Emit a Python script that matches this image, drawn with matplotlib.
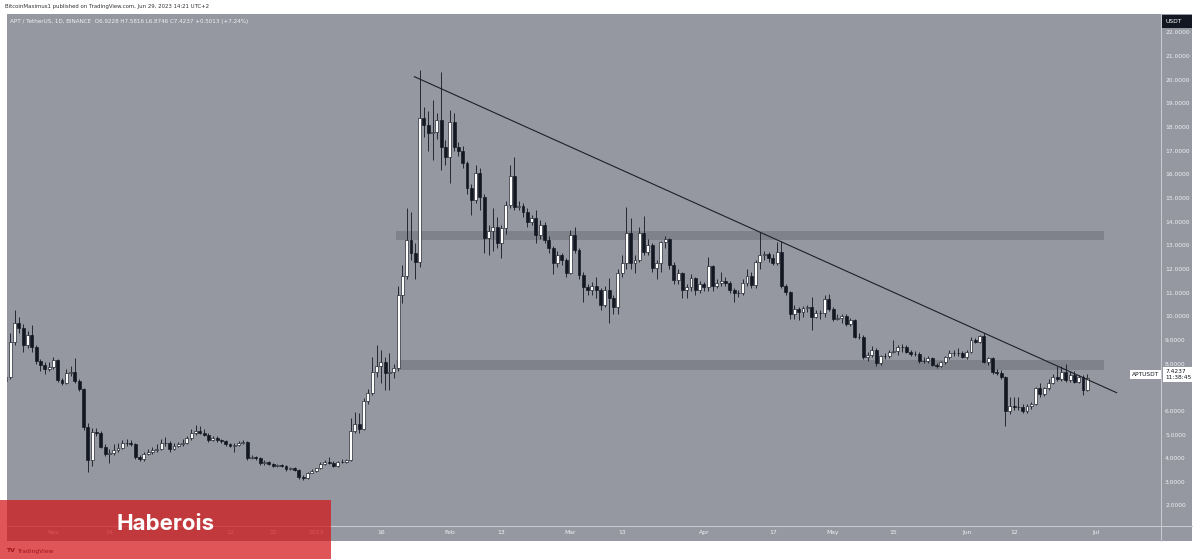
import numpy as np
import pandas as pd
import matplotlib
matplotlib.use('Agg')
import matplotlib.pyplot as plt
import matplotlib.dates as mdates
from matplotlib.patches import Rectangle
from matplotlib.lines import Line2D
from matplotlib.transforms import blended_transform_factory

# --- dados (APT/USDT diário) ---
start_date = '2022-10-21'
first_open = 7.30

closes = [
    7.44, 8.95, 9.75, 9.51, 8.81, 9.23, 8.71, 8.14, 7.96, 7.78,
    7.89, 8.17, 7.33, 7.21, 7.64, 7.68, 7.30, 6.95, 5.35, 3.95,
    5.14, 5.10, 4.51, 4.20, 4.23, 4.37, 4.45, 4.65, 4.68, 4.62,
    4.09, 4.00, 4.20, 4.30, 4.35, 4.40, 4.65, 4.68, 4.40, 4.55,
    4.60, 4.65, 4.86, 5.10, 5.19, 5.10, 5.00, 4.79, 4.86, 4.79,
    4.76, 4.62, 4.54, 4.58, 4.68, 4.72, 4.02, 4.06, 4.02, 3.80,
    3.87, 3.78, 3.69, 3.73, 3.69, 3.55, 3.59, 3.52, 3.21, 3.20,
    3.41, 3.49, 3.59, 3.78, 3.87, 3.83, 3.69, 3.87, 3.85, 3.95,
    5.19, 5.47, 5.26, 6.45, 6.79, 7.68, 7.92, 8.10, 7.61, 7.65,
    7.82, 10.92, 11.73, 13.25, 12.68, 12.33, 18.39, 18.11, 17.76, 17.83,
    18.32, 17.19, 16.74, 18.25, 17.19, 17.02, 16.49, 15.43, 14.94, 16.07,
    15.08, 13.32, 13.64, 13.81, 13.11, 13.74, 14.73, 15.93, 14.66, 14.70,
    14.45, 14.02, 14.16, 13.46, 13.88, 13.25, 12.89, 12.26, 12.61, 12.40,
    11.84, 13.46, 12.82, 11.77, 11.27, 11.13, 11.30, 11.13, 10.50, 11.13,
    10.78, 10.40, 11.87, 12.26, 13.53, 12.26, 12.40, 13.53, 12.75, 13.04,
    12.05, 12.26, 13.14, 13.28, 12.19, 11.56, 11.84, 11.13, 11.27, 11.63,
    11.13, 11.39, 11.25, 12.15, 11.30, 11.44, 11.53, 11.44, 11.13, 11.02,
    11.00, 11.44, 11.72, 11.34, 12.33, 12.61, 12.66, 12.50, 12.29, 12.75,
    11.30, 11.06, 10.12, 10.32, 10.22, 10.36, 10.40, 10.01, 10.15, 10.17,
    10.74, 10.32, 9.89, 9.94, 10.03, 9.69, 9.86, 9.16, 9.15, 8.29,
    8.38, 8.60, 8.03, 8.32, 8.33, 8.53, 8.55, 8.71, 8.74, 8.53,
    8.43, 8.42, 8.15, 8.14, 8.24, 7.96, 7.92, 8.10, 8.29, 8.48,
    8.45, 8.46, 8.29, 8.53, 9.02, 8.95, 9.19, 8.10, 8.24, 7.68,
    7.64, 7.44, 6.03, 6.23, 6.20, 6.17, 6.03, 6.23, 6.31, 6.98,
    6.74, 6.98, 7.22, 7.44, 7.36, 7.68, 7.33, 7.54, 7.26, 7.44,
    6.9228, 7.4237,
]

highs = [
    7.70, 9.30, 10.29, 10.00, 9.70, 9.40, 9.65, 8.80, 8.20, 8.10,
    8.10, 8.30, 8.22, 7.40, 7.80, 7.90, 8.24, 7.35, 7.00, 5.50,
    5.30, 5.30, 5.15, 4.60, 4.40, 4.60, 4.65, 4.80, 4.85, 4.80,
    4.65, 4.15, 4.30, 4.40, 4.50, 4.60, 4.85, 4.90, 4.75, 4.65,
    4.72, 4.85, 4.95, 5.25, 5.43, 5.40, 5.25, 5.10, 4.95, 4.95,
    4.85, 4.80, 4.68, 4.65, 4.75, 4.80, 4.75, 4.15, 4.12, 4.08,
    3.95, 3.92, 3.82, 3.78, 3.76, 3.72, 3.65, 3.66, 3.58, 3.30,
    3.45, 3.55, 3.62, 3.85, 3.95, 4.05, 3.92, 3.92, 3.98, 4.00,
    5.71, 5.99, 5.92, 6.55, 6.95, 8.31, 8.81, 8.60, 8.30, 8.45,
    8.00, 11.30, 12.20, 14.59, 14.45, 13.10, 20.44, 18.88, 18.70, 19.17,
    18.60, 20.36, 17.48, 18.74, 18.60, 17.40, 17.20, 16.60, 15.60, 16.40,
    16.30, 15.20, 13.90, 14.60, 14.20, 13.90, 14.90, 16.40, 16.77, 14.90,
    14.80, 14.60, 14.30, 14.50, 14.10, 14.00, 13.40, 13.00, 12.80, 12.70,
    12.50, 13.67, 13.78, 12.90, 11.90, 11.40, 11.45, 11.70, 11.20, 11.30,
    11.63, 10.90, 12.00, 12.60, 14.63, 14.16, 12.60, 13.80, 14.26, 13.30,
    13.10, 12.40, 13.20, 13.40, 13.35, 12.30, 12.00, 11.90, 11.40, 11.80,
    11.70, 11.50, 11.45, 12.54, 12.20, 11.60, 11.90, 11.70, 11.50, 11.20,
    11.15, 11.60, 12.00, 11.90, 12.40, 13.60, 12.80, 12.75, 12.65, 13.18,
    13.20, 11.40, 11.10, 10.50, 10.40, 10.45, 10.50, 10.85, 10.30, 10.30,
    10.90, 10.95, 10.40, 10.10, 10.10, 10.10, 9.95, 9.90, 9.30, 9.25,
    8.50, 8.75, 8.70, 8.40, 8.45, 8.60, 9.02, 8.80, 8.85, 8.80,
    8.60, 8.55, 8.50, 8.30, 8.35, 8.30, 8.05, 8.15, 8.35, 8.60,
    8.60, 8.70, 8.55, 8.60, 9.15, 9.10, 9.25, 9.30, 8.30, 8.30,
    7.80, 7.75, 7.50, 6.60, 6.60, 6.60, 6.30, 6.30, 6.40, 7.05,
    7.20, 7.05, 7.35, 7.60, 7.90, 7.90, 8.00, 7.70, 7.70, 7.55,
    7.55, 7.5816,
]

lows = [
    7.00, 7.35, 8.80, 9.30, 8.50, 8.70, 8.50, 8.00, 7.70, 7.60,
    7.70, 7.80, 7.25, 7.10, 7.15, 7.50, 7.20, 6.85, 5.20, 3.45,
    3.70, 4.95, 4.45, 4.10, 3.80, 4.15, 4.30, 4.40, 4.55, 4.55,
    4.00, 3.90, 3.90, 4.15, 4.20, 4.30, 4.35, 4.55, 4.30, 4.35,
    4.50, 4.55, 4.60, 4.80, 5.00, 5.05, 4.95, 4.70, 4.75, 4.70,
    4.68, 4.55, 4.48, 4.30, 4.55, 4.60, 3.95, 3.98, 3.95, 3.75,
    3.75, 3.72, 3.65, 3.66, 3.64, 3.50, 3.52, 3.48, 3.15, 3.08,
    3.15, 3.38, 3.45, 3.55, 3.72, 3.78, 3.65, 3.65, 3.80, 3.82,
    3.90, 5.10, 5.10, 5.20, 6.30, 6.70, 7.45, 7.20, 6.90, 6.90,
    7.40, 7.70, 10.60, 11.60, 12.40, 11.60, 12.10, 17.60, 17.00, 16.63,
    17.50, 16.20, 16.40, 15.64, 17.00, 16.80, 16.30, 15.20, 14.30, 14.80,
    14.50, 12.70, 12.60, 12.80, 12.90, 12.50, 13.50, 14.60, 14.50, 14.50,
    14.20, 13.80, 13.90, 13.10, 13.30, 13.10, 12.70, 11.80, 12.10, 12.20,
    11.70, 11.80, 12.70, 11.60, 10.64, 10.90, 10.90, 10.78, 10.30, 10.40,
    9.72, 10.10, 10.10, 11.70, 12.00, 12.00, 11.84, 12.30, 12.60, 12.60,
    11.90, 11.60, 11.90, 12.90, 12.00, 11.40, 11.40, 10.80, 10.78, 11.10,
    10.90, 11.00, 11.10, 11.10, 11.10, 11.20, 11.30, 11.30, 11.00, 10.64,
    10.85, 10.90, 11.30, 11.20, 11.20, 12.00, 12.40, 12.30, 12.20, 12.20,
    11.20, 10.90, 9.90, 9.90, 9.85, 10.00, 10.20, 9.44, 9.95, 9.90,
    10.00, 10.25, 9.80, 9.85, 9.75, 9.60, 9.60, 9.10, 9.05, 8.20,
    8.15, 8.30, 7.90, 7.95, 8.20, 8.25, 8.45, 8.40, 8.50, 8.45,
    8.35, 8.35, 8.05, 8.05, 8.05, 7.90, 7.85, 7.88, 8.00, 8.20,
    8.35, 8.35, 8.25, 8.20, 8.45, 8.90, 8.90, 8.05, 7.95, 7.60,
    7.55, 7.35, 5.38, 5.90, 6.05, 6.05, 5.95, 5.95, 6.10, 6.25,
    6.60, 6.65, 6.90, 7.15, 7.30, 7.30, 7.25, 7.25, 7.20, 7.20,
    6.70, 6.8746,
]

# zonas horizontais (suporte / resistência) e linha de tendência
zone_low = [13.25, 7.75]
zone_high = [13.64, 8.17]
zone_start = '2023-01-19 12:00'
zone_end = '2023-07-02 22:00'
trend_dates = ['2023-01-23 19:00', '2023-07-05 19:00']
trend_prices = [20.15, 6.79]

# "Dec" fica escondido debaixo do texto vermelho no original
tick_dates = ['2022-11-01', '2022-11-14', '2022-12-12', '2022-12-22',
              '2023-01-01', '2023-01-16', '2023-02-01', '2023-02-13', '2023-03-01',
              '2023-03-13', '2023-04-01', '2023-04-17', '2023-05-01', '2023-05-15',
              '2023-06-01', '2023-06-12', '2023-07-01']
tick_labels = ['Nov', '14', '12', '22', '2023', '16', 'Feb', '13', 'Mar',
               '13', 'Apr', '17', 'May', '15', 'Jun', '12', 'Jul']
price_ticks = list(range(2, 23))

BG = '#9598a1'
DARK = '#131722'
W, H = 1200, 559


def fx(px):
    return px / W


def fy(py):
    return 1 - py / H


opens = [first_open] + closes[:-1]
dates = pd.date_range(start_date, periods=len(closes), freq='D')
t = mdates.date2num(dates)
t0 = t[0]

fig = plt.figure(figsize=(12, 5.59), dpi=100, facecolor='white')

# fundo cinza do gráfico (inclui eixo de tempo e de preço)
fig.add_artist(Rectangle((fx(7), fy(541)), fx(1185), 527 / H, transform=fig.transFigure,
                         facecolor=BG, edgecolor='none', zorder=0))

ax = fig.add_axes([fx(7), fy(525.5), fx(1154), 511.5 / H])
ax.set_facecolor(BG)
for s in ax.spines.values():
    s.set_visible(False)
ax.set_xlim(t0 + 0.23, t0 + 268.1)
ax.set_ylim(1.175, 22.80)
ax.set_yticks([])

# zonas
zs = mdates.date2num(pd.Timestamp(zone_start))
ze = mdates.date2num(pd.Timestamp(zone_end))
for lo, hi in zip(zone_low, zone_high):
    ax.add_patch(Rectangle((zs, lo), ze - zs, hi - lo, facecolor='#7f828b',
                           edgecolor='none', zorder=1))

# velas
o = np.array(opens)
c = np.array(closes)
hh = np.array(highs)
ll = np.array(lows)
up = c >= o
ax.vlines(t, ll, hh, color='#1e2029', lw=0.65, zorder=2)
ax.bar(t[up], (c - o)[up], bottom=o[up], width=0.68, color='white',
       edgecolor=DARK, linewidth=0.45, zorder=3)
ax.bar(t[~up], (c - o)[~up], bottom=o[~up], width=0.68, color=DARK,
       edgecolor=DARK, linewidth=0.45, zorder=3)

# linha de tendência
tx = mdates.date2num(pd.to_datetime(trend_dates))
ax.plot(tx, trend_prices, color='#1e2029', lw=0.8, zorder=4)

# eixo de tempo
ax.set_xticks(mdates.date2num(pd.to_datetime(tick_dates)))
ax.set_xticklabels(tick_labels)
ax.tick_params(axis='x', length=0, pad=3.2, labelsize=4.4, labelcolor='#eef0f4')

# eixo de preços à direita (o rótulo do preço atual tapa o nível 7)
last = closes[-1]
tr = blended_transform_factory(ax.transAxes, ax.transData)
for p in price_ticks:
    if abs(p - last) < 0.5:
        continue
    ax.text(1.0035, p, f'{p:.4f}', transform=tr, ha='left', va='center',
            fontsize=4.3, color='#eef0f4', clip_on=False)

# linhas separadoras
fig.add_artist(Line2D([fx(1161), fx(1161)], [fy(14), fy(541)], color='#c9ccd3', lw=0.7))
fig.add_artist(Line2D([fx(7), fx(1192)], [fy(525.5), fy(525.5)], color='#c9ccd3', lw=0.7))

# caixa USDT
fig.add_artist(Rectangle((fx(1162), fy(28)), fx(30), 13 / H, transform=fig.transFigure,
                         facecolor=DARK, edgecolor='none', zorder=5))
fig.text(fx(1165), fy(21.5), 'USDT', fontsize=4.3, color='white', va='center', zorder=6)

# rótulo do preço atual
ax.text(0.9985, last + 0.12, 'APTUSDT', transform=tr, ha='right', va='center', fontsize=4.2,
        color=DARK, zorder=7, clip_on=False,
        bbox=dict(boxstyle='square,pad=0.35', facecolor='white', edgecolor='none'))
ax.text(1.0035, last + 0.36, f'{last:.4f}\n11:38:45', transform=tr, ha='left', va='top',
        fontsize=4.2, color=DARK, zorder=7, clip_on=False, linespacing=1.2,
        bbox=dict(boxstyle='square,pad=0.35', facecolor='white', edgecolor='none'))

# cabeçalho e legenda
fig.text(fx(5), fy(6.5), 'BitcoinMaximus1 published on TradingView.com, Jun 29, 2023 14:21 UTC+2',
         fontsize=3.9, color='#333333', va='center')
fig.text(fx(10), fy(21), 'APT / TetherUS, 1D, BINANCE  O6.9228 H7.5816 L6.8746 C7.4237 +0.5013 (+7.24%)',
         fontsize=4.1, color='#eef0f4', va='center')

# logo TradingView
fig.text(fx(6), fy(551), 'TV', fontsize=4.5, color=DARK, weight='bold', va='center')
fig.text(fx(17), fy(551), 'TradingView', fontsize=4.3, color=DARK, va='center')

# faixa vermelha com o nome
fig.add_artist(Rectangle((0, 0), fx(331), 59 / H, transform=fig.transFigure,
                         facecolor=(0.83, 0.08, 0.09), alpha=0.72, edgecolor='none', zorder=10))
fig.text(fx(166), fy(524), 'Haberois', fontsize=16, color='white', weight='bold',
         family='Inter', ha='center', va='center', zorder=11)

fig.savefig('out.png', dpi=100, facecolor='white')
